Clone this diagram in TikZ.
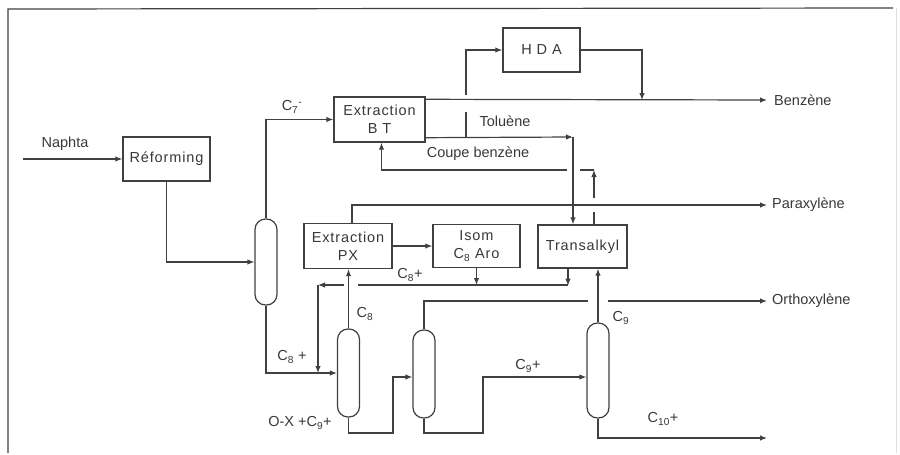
\documentclass[tikz,border=0pt]{standalone}
\usepackage{fontspec}
\setmainfont{Liberation Sans}
\newfontfamily\boxfont[LetterSpace=6]{Liberation Sans}
\usetikzlibrary{arrows.meta,calc,positioning}
\definecolor{pfdline}{HTML}{404040}
\definecolor{pfdtext}{HTML}{383838}

\begin{document}
\begin{tikzpicture}[x=1pt,y=-1pt,
  unit/.style={draw=pfdline, line width=1.4pt, fill=white, inner sep=0pt, align=center, font=\fontsize{14.5}{18}\boxfont, text=pfdtext},
  column/.style={draw=pfdline, line width=1.2pt, rounded corners=10.5pt, minimum width=22pt, inner sep=0pt},
  flow/.style={draw=pfdline, line width=1.2pt, -{Latex[length=7pt,width=5.5pt]}},
  pipe/.style={draw=pfdline, line width=1.2pt},
  tag/.style={font=\fontsize{14.5}{17}\selectfont, text=pfdtext, inner sep=1pt}
]
  \useasboundingbox (0,0) rectangle (900,455);

  % Frame
  \draw[pfdline, line width=1.2pt] (893,8) -- (8,9) -- (8,453);
  \draw[gray!25, line width=0.8pt] (896,8) -- (896,453);

  % Units
  \node[unit, minimum width=87pt, minimum height=44pt] (reform) at (166.5,159) {Réforming};
  \node[unit, minimum width=91pt, minimum height=45pt] (extbt) at (379.5,119.5) {Extraction\\B T};
  \node[unit, minimum width=77pt, minimum height=44pt] (hda) at (541.5,50) {H D A};
  \node[unit, minimum width=88pt, minimum height=45pt] (extpx) at (348,246) {Extraction\\PX};
  \node[unit, minimum width=87pt, minimum height=43pt] (isom) at (476.5,246) {Isom\\C\textsubscript{8} Aro};
  \node[unit, minimum width=89pt, minimum height=43pt] (trans) at (582.5,246.5) {Transalkyl};

  % Columns
  \node[column, minimum height=86pt] (col1) at (266,262) {};
  \node[column, minimum height=88pt] (col2) at (348.5,373) {};
  \node[column, minimum height=88pt] (col3) at (424,374) {};
  \node[column, minimum height=95pt] (col4) at (598,370.5) {};

  % Junctions and outlets
  \coordinate (naphta) at (23,159);
  \coordinate (bz) at (767,100);
  \coordinate (px) at (767,205);
  \coordinate (ox) at (767,301);
  \coordinate (heavy) at (767,438);
  \coordinate (tol) at (573,137);
  \coordinate (hdaj) at (642,100);
  \coordinate (coupe) at (594,170);
  \coordinate (rec) at (318,285);

  % Feed and reformate
  \draw[flow] (naphta) -- (reform.west);
  \draw[flow] (reform.south) |- (col1.west);
  \draw[flow] (col1.north) |- (extbt.west);

  % Extraction BT outlets
  \draw[flow] ([yshift=-3pt]extbt.north east) -- (bz);
  \draw[flow] ([yshift=5pt]extbt.south east) -- (tol);
  \draw[flow] (tol) -- (tol |- trans.north);
  \draw[pipe] (466,137) -- (466,112);
  \draw[flow] (466,95) |- (hda.west);
  \draw[flow] (hda.east) -| (hdaj);

  % Coupe benzene back to extraction
  \draw[pipe] ([xshift=11.5pt]trans.north) -- (594,212);
  \draw[flow] (594,198) -- (coupe);
  \draw[pipe] (coupe) -- (580,170);
  \draw[flow] (567,170) -| ([xshift=2pt]extbt.south);

  % Paraxylene loop
  \draw[flow] ([xshift=4pt]extpx.north) |- (px);
  \draw[flow] (extpx.east) -- (isom.west);
  \draw[flow] (isom.south) -- (isom.south |- rec);
  \draw[flow] ([xshift=-14.5pt]trans.south) -- ++(0,17);
  \draw[pipe] (568,285) -- (358,285);
  \draw[flow] (344,285) -- (rec);
  \draw[flow] (rec) -- (rec |- col2.west);

  % Columns train
  \draw[flow] (col1.south) |- (col2.west);
  \draw[flow] (col2.north) -- (col2.north |- extpx.south);
  \draw[flow] (col2.south) |- (393,433) |- ([yshift=-3pt]col3.west);
  \draw[pipe] (col3.north) |- (588,301);
  \draw[flow] (608,301) -- (ox);
  \draw[flow] (col3.south) |- (483,433) |- ([yshift=-6.5pt]col4.west);
  \draw[flow] (col4.north) -- (col4.north |- trans.south);
  \draw[flow] (col4.south) |- (heavy);

  % Labels
  \node[tag] (lnaphta) at (65,144) {Naphta};
  \node[tag] (lc7) at (292,107) {C\textsubscript{7}\textsuperscript{-}};
  \node[tag, anchor=west] (lbz) at (773,100) {Benzène};
  \node[tag] (ltol) at (505,121) {Toluène};
  \node[tag] (lcoupe) at (478,154) {Coupe benzène};
  \node[tag, anchor=west] (lpx) at (771,205) {Paraxylène};
  \node[tag] (lc8r) at (410,275) {C\textsubscript{8}+};
  \node[tag, anchor=west] (lox) at (771,301) {Orthoxylène};
  \node[tag] (lc8) at (365,314) {C\textsubscript{8}};
  \node[tag] (lc8f) at (292,357) {C\textsubscript{8} +};
  \node[tag] (lox9) at (300,423) {O-X +C\textsubscript{9}+};
  \node[tag] (lc9p) at (528,366) {C\textsubscript{9}+};
  \node[tag] (lc9) at (621,318) {C\textsubscript{9}};
  \node[tag] (lc10) at (663,419) {C\textsubscript{10}+};
\end{tikzpicture}
\end{document}
